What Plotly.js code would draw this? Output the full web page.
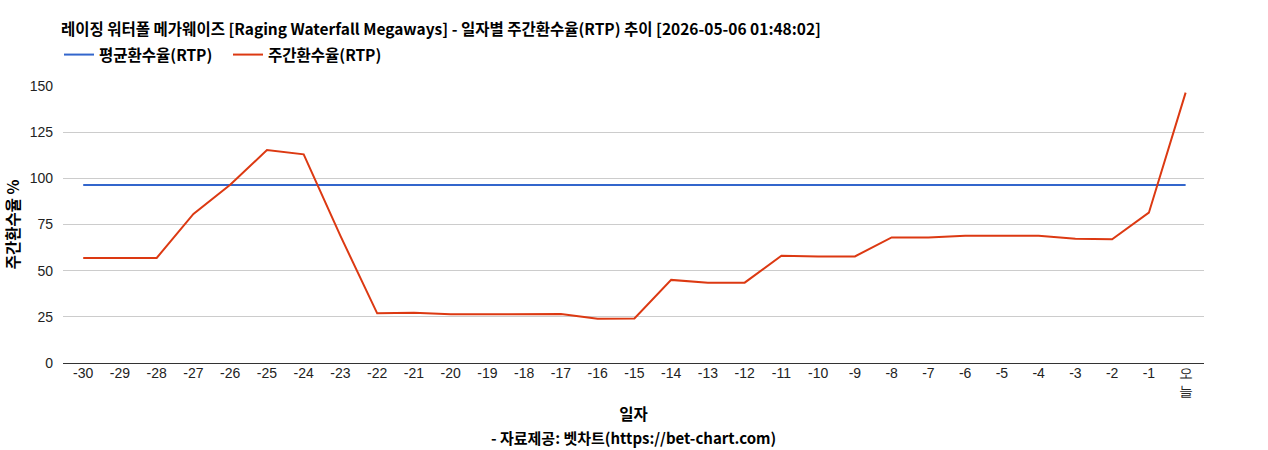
<!DOCTYPE html>
<html>
<head>
<meta charset="utf-8">
<script src="https://cdn.plot.ly/plotly-3.0.1.min.js"></script>
<style>html,body{margin:0;padding:0;background:#fff}#chart{width:1268px;height:450px}</style>
</head>
<body>
<div id="chart"></div>
<script>
const dayLabels = ["-30","-29","-28","-27","-26","-25","-24","-23","-22","-21","-20","-19","-18","-17","-16","-15","-14","-13","-12","-11","-10","-9","-8","-7","-6","-5","-4","-3","-2","-1","오<br>늘"];
const weeklyRTP = [56.9,56.9,56.9,80.7,96.5,115.3,113.0,68.8,26.9,27.2,26.4,26.4,26.4,26.5,24.0,24.1,45.0,43.5,43.5,58.1,57.7,57.7,68.0,68.0,68.9,68.9,68.9,67.3,67.0,81.4,146.4];
const avgRTP = 96.4;
const avgSeries = dayLabels.map(() => avgRTP);
const xIdx = dayLabels.map((_, i) => i);

const korFont = '"Noto Sans CJK KR", "Liberation Sans", Arial, sans-serif';
const tickFont = '"Liberation Sans", Arial, sans-serif';

const traces = [
  {x: xIdx, y: avgSeries, type: 'scatter', mode: 'lines', name: '평균환수율(RTP)',
   line: {color: '#3366cc', width: 2}},
  {x: xIdx, y: weeklyRTP, type: 'scatter', mode: 'lines', name: '주간환수율(RTP)',
   line: {color: '#dc3912', width: 2}}
];

const layout = {
  width: 1268, height: 450,
  margin: {l: 63, r: 64, t: 86, b: 87},
  paper_bgcolor: '#fff', plot_bgcolor: '#fff',
  title: {text: '<b>레이징 워터폴 메가웨이즈 [Raging Waterfall Megaways] - 일자별 주간환수율(RTP) 추이 [2026-05-06 01:48:02]</b>',
          font: {family: korFont, size: 15.5, color: '#000'},
          x: 61/1268, xanchor: 'left', xref: 'container', y: 1 - 30/450, yanchor: 'middle', yref: 'container'},
  showlegend: true,
  legend: {orientation: 'h', x: -4/1141, xanchor: 'left', y: 1 + 31/277, yanchor: 'middle',
           font: {family: korFont, size: 15.5, color: '#000', weight: 'bold'}, itemwidth: 30, tracegroupgap: 0,
           entrywidth: 124, entrywidthmode: 'pixels'},
  xaxis: {tickvals: xIdx, ticktext: dayLabels, range: [-0.55, 30.5],
          showgrid: false, zeroline: false, showline: false, ticks: '',
          tickfont: {family: tickFont, size: 14, color: '#222'},
          title: {text: '<b>일자</b>', font: {family: korFont, size: 15.5, color: '#000'}, standoff: 10}},
  yaxis: {range: [0, 150], tickvals: [0,25,50,75,100,125,150], gridcolor: '#cccccc', gridwidth: 1,
          zeroline: true, zerolinecolor: '#333', zerolinewidth: 1, showline: false, ticks: '',
          tickfont: {family: tickFont, size: 14, color: '#222'}, ticklabelstandoff: 9,
          title: {text: '<b>주간환수율 %</b>', font: {family: korFont, size: 15.5, color: '#000'}, standoff: 6}},
  annotations: [{text: '<b>- 자료제공: 벳차트(https://bet-chart.com)</b>', xref: 'paper', yref: 'paper',
                 x: 0.5, y: (363 - 437) / 277, xanchor: 'center', yanchor: 'middle', showarrow: false,
                 font: {family: korFont, size: 15, color: '#000'}}]
};

Plotly.newPlot('chart', traces, layout, {displayModeBar: false, staticPlot: true});
</script>
</body>
</html>
